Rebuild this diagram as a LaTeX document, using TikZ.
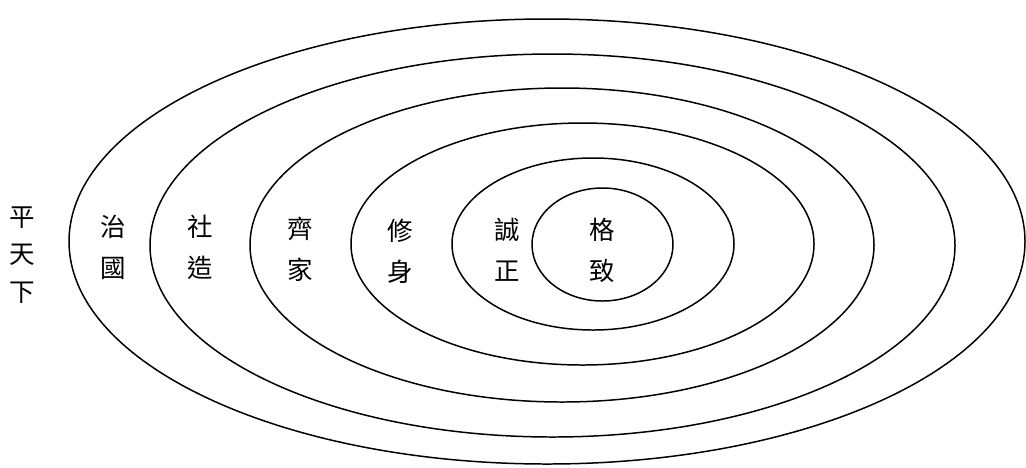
\documentclass[tikz,border=0pt]{standalone}
\usepackage{fontspec}
\newfontfamily\cjk{Noto Sans CJK TC}
\usepackage{tikz}

\begin{document}
\begin{tikzpicture}[x=0.02cm, y=-0.02cm,
    ring/.style={line width=0.85pt},
    lbl/.style={font=\cjk\fontsize{14.5}{23.3}\selectfont, align=center, inner sep=0pt}]
  \useasboundingbox (0,0) rectangle (1026,467);

  % Elipses
  \draw[ring] (547,241.5) ellipse [x radius=478, y radius=222.5];
  \draw[ring] (552.5,245.5) ellipse [x radius=402.5, y radius=191.5];
  \draw[ring] (562,245) ellipse [x radius=312, y radius=157];
  \draw[ring] (582.5,244) ellipse [x radius=231.5, y radius=121];
  \draw[ring] (593,244) ellipse [x radius=141, y radius=86];
  \draw[ring] (602.5,244.5) ellipse [x radius=70.5, y radius=56.5];

  % Etiquetas
  \node[lbl, font=\cjk\fontsize{14.5}{21.5}\selectfont] (ptx) at (22,255) {平\\天\\下};
  \node[lbl] (zg) at (113,247.5) {治\\國};
  \node[lbl] (sz) at (200,247.5) {社\\造};
  \node[lbl] (qj) at (300,249) {齊\\家};
  \node[lbl] (xs) at (400,251) {修\\身};
  \node[lbl] (cz) at (507,250) {誠\\正};
  \node[lbl] (gz) at (602.5,250) {格\\致};
\end{tikzpicture}
\end{document}
